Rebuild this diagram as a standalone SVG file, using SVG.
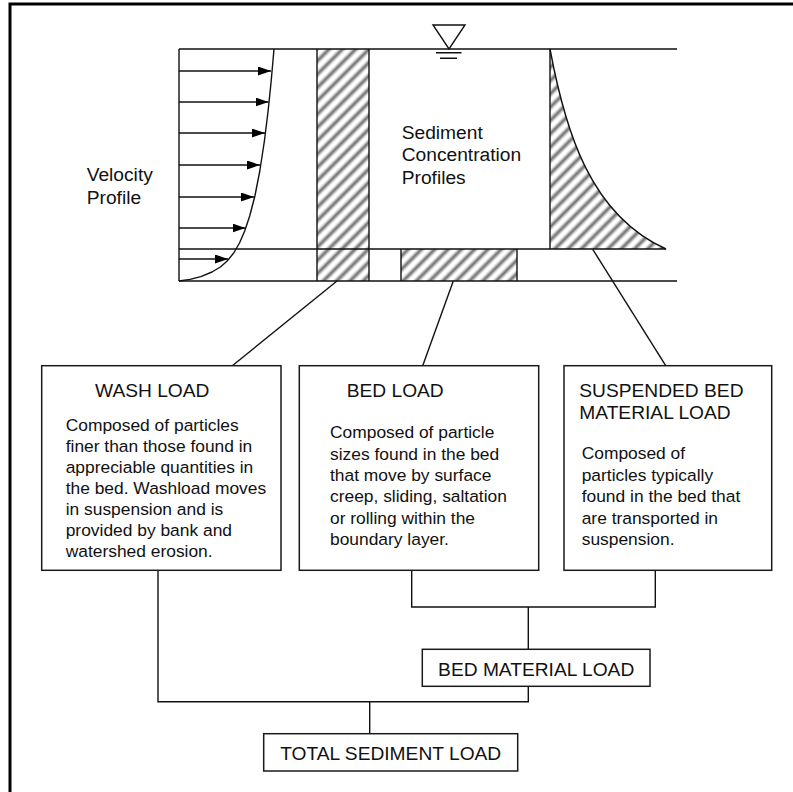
<svg xmlns="http://www.w3.org/2000/svg" width="793" height="792" viewBox="0 0 793 792">
<style>
  .ln { stroke: #111; stroke-width: 1.4; fill: none; }
  .box { stroke: #1a1a1a; stroke-width: 1.5; fill: #fff; }
  .title { font-family: "Liberation Sans", Arial, sans-serif; font-size: 19.2px; fill: #111; }
  .body { font-family: "Liberation Sans", Arial, sans-serif; font-size: 17.4px; fill: #111; }
  .hatch { fill: url(#hatch); stroke: none; }
</style>
<defs>
  <linearGradient id="stripe" x1="0" y1="0" x2="1" y2="0">
    <stop offset="0" stop-color="#fff"/>
    <stop offset="0.5" stop-color="#6e6e6e"/>
    <stop offset="1" stop-color="#fff"/>
  </linearGradient>
  <pattern id="hatch" patternUnits="userSpaceOnUse" width="9.4" height="9.4" patternTransform="rotate(45)">
    <rect x="0" y="0" width="9.4" height="9.4" fill="#fff"/>
    <rect x="1" y="0" width="6.6" height="9.4" fill="url(#stripe)"/>
  </pattern>
  <marker id="ah" markerUnits="userSpaceOnUse" markerWidth="13" markerHeight="9" refX="13" refY="4.5" orient="auto">
    <path d="M0,0 L13,4.5 L0,9 Z" fill="#000"/>
  </marker>
</defs>

<!-- outer frame -->
<path d="M10,792 V4 H793" fill="none" stroke="#000" stroke-width="3"/>

<!-- channel / profiles -->
<g id="channel">
  <rect class="hatch" x="317" y="49" width="52" height="232"/>
  <rect class="hatch" x="401" y="249" width="116" height="32"/>
  <path class="hatch" d="M550,49 C565,130 590,215 666,249 L550,249 Z"/>
  <path class="ln" d="M179,49 H677 M179,281 H677 M179,249 H666 M179,49 V281"/>
  <path class="ln" d="M317,49 V281 M369,49 V281 M401,249 V281 M517,249 V281 M550,49 V249"/>
  <path class="ln" d="M550,49 C565,130 590,215 666,249"/>
  <!-- water surface symbol -->
  <path class="ln" d="M433,25 H465 L449,49 Z"/>
  <path class="ln" d="M436,52.7 H461.5 M440,58.3 H457"/>
</g>

<g id="velocity-profile">
  <polyline class="ln" stroke-linejoin="round" points="179,281 190,279.4 200.8,276.6 212,272 220.4,267 227.2,261 233.7,253 239.5,243 244.7,231 249.7,216 254.9,196 259.8,171 264.4,141 268.1,111 271.2,81 274,49"/>
  <g class="ln" marker-end="url(#ah)">
    <line x1="179" y1="71" x2="271" y2="71"/>
    <line x1="179" y1="102" x2="268.5" y2="102"/>
    <line x1="179" y1="133" x2="265" y2="133"/>
    <line x1="179" y1="165" x2="260" y2="165"/>
    <line x1="179" y1="197" x2="254" y2="197"/>
    <line x1="179" y1="228" x2="245.5" y2="228"/>
    <line x1="179" y1="259" x2="228" y2="259"/>
  </g>
  <text class="title" x="86.7" y="181">Velocity</text>
  <text class="title" x="86.7" y="204">Profile</text>
</g>

<g id="concentration-label">
  <text class="title" x="401.7" y="139">Sediment</text>
  <text class="title" x="401.7" y="161">Concentration</text>
  <text class="title" x="401.7" y="184">Profiles</text>
</g>

<!-- connectors -->
<g id="connectors" class="ln">
  <line x1="337" y1="281" x2="232.3" y2="365.7"/>
  <line x1="453.3" y1="281" x2="422.7" y2="365.7"/>
  <line x1="592.7" y1="249.3" x2="665.7" y2="365.7"/>
  <path d="M158,570.3 V701.7 H528.3 V686.3"/>
  <path d="M369.7,701.7 V733.7"/>
  <path d="M411.7,570.3 V607 H655.3 V570.3"/>
  <path d="M528.3,607 V649.3"/>
</g>

<g id="wash-load">
  <rect class="box" x="41.7" y="365.7" width="239.3" height="204.6"/>
  <text class="title" x="95" y="396.7">WASH LOAD</text>
  <text class="body" x="65.7">
    <tspan x="65.7" y="430.7">Composed of particles</tspan>
    <tspan x="65.7" y="451.8">finer than those found in</tspan>
    <tspan x="65.7" y="472.9">appreciable quantities in</tspan>
    <tspan x="65.7" y="494">the bed. Washload moves</tspan>
    <tspan x="65.7" y="515.1">in suspension and is</tspan>
    <tspan x="65.7" y="536.2">provided by bank and</tspan>
    <tspan x="65.7" y="557.3">watershed erosion.</tspan>
  </text>
</g>

<g id="bed-load">
  <rect class="box" x="299.3" y="365.7" width="239.4" height="204.6"/>
  <text class="title" x="346.7" y="396.7">BED LOAD</text>
  <text class="body">
    <tspan x="330" y="438.3">Composed of particle</tspan>
    <tspan x="330" y="459.6">sizes found in the bed</tspan>
    <tspan x="330" y="480.9">that move by surface</tspan>
    <tspan x="330" y="502.2">creep, sliding, saltation</tspan>
    <tspan x="330" y="523.5">or rolling within the</tspan>
    <tspan x="330" y="544.8">boundary layer.</tspan>
  </text>
</g>

<g id="suspended-bed-material-load">
  <rect class="box" x="564" y="365.7" width="207.7" height="204.6"/>
  <text class="title" x="579.3" y="396.7">SUSPENDED BED</text>
  <text class="title" x="579.3" y="419">MATERIAL LOAD</text>
  <text class="body">
    <tspan x="581.7" y="459.3">Composed of</tspan>
    <tspan x="581.7" y="480.7">particles typically</tspan>
    <tspan x="581.7" y="502.1">found in the bed that</tspan>
    <tspan x="581.7" y="523.5">are transported in</tspan>
    <tspan x="581.7" y="544.9">suspension.</tspan>
  </text>
</g>

<g id="bed-material-load">
  <rect class="box" x="422.3" y="649.3" width="227.7" height="37"/>
  <text class="title" x="536.2" y="676" text-anchor="middle">BED MATERIAL LOAD</text>
</g>

<g id="total-sediment-load">
  <rect class="box" x="263.7" y="733.7" width="254" height="37.3"/>
  <text class="title" x="390.7" y="760" text-anchor="middle">TOTAL SEDIMENT LOAD</text>
</g>
</svg>
